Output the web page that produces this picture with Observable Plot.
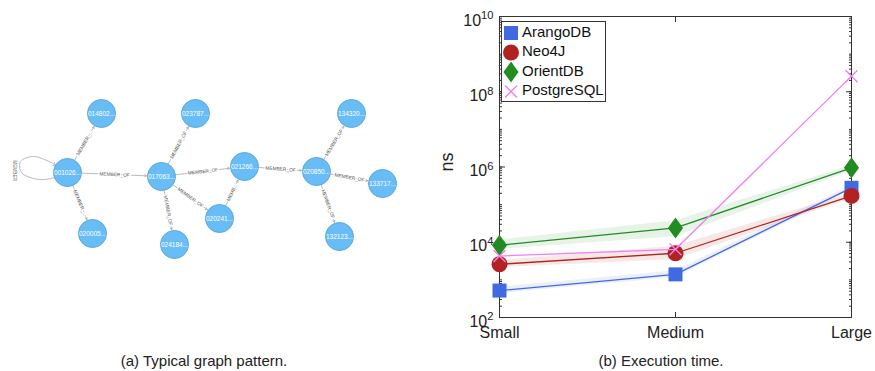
<!DOCTYPE html>
<html><head><meta charset="utf-8">
<script src="https://cdn.jsdelivr.net/npm/d3@7"></script>
<script src="https://cdn.jsdelivr.net/npm/@observablehq/plot@0.6"></script>
<style>
body{margin:0;background:#fff;font-family:"Liberation Sans",Arial,sans-serif;}
#wrap{position:relative;width:875px;height:371px;overflow:hidden;background:#fff}
#graph{position:absolute;left:0;top:0}
#chart{position:absolute;left:430px;top:0}
#legend{position:absolute;left:501px;top:21px}
.cap{position:absolute;top:352px;font-size:15px;color:#222;transform:translateX(-50%);white-space:nowrap}
</style></head>
<body><div id="wrap">
<div id="graph"></div>
<div id="chart"></div>
<div id="legend"></div>
<div class="cap" style="left:204px">(a) Typical graph pattern.</div>
<div class="cap" style="left:661px">(b) Execution time.</div>
</div>
<script>
// ---------- Panel (a): graph pattern ----------
const nodeIds = ["001026","014802","020005","017063","023787","024184","020241","021266","020850","134320","133717","132123"];
const nodeX =   [67, 101, 92, 161, 195, 174, 219, 244, 316, 351, 382, 339];
const nodeY =   [172, 113, 233, 176, 113, 244, 218, 166, 171, 113, 183, 236];
const edgeFrom = ["001026","001026","001026","017063","017063","017063","017063","020241","021266","020850","020850","020850"];
const edgeTo =   ["014802","020005","017063","023787","021266","024184","020241","021266","020850","134320","133717","132123"];
const edgeLabel = ["MEMBER_...","MEMBER_...","MEMBER_OF","MEMBER_OF","MEMBER_OF","MEMBER_OF","MEMBER_OF","MEMB...","MEMBER_OF","MEMBER_OF","MEMBER_OF","MEMBER_OF"];
const loopX = [55, 38, 21, 20, 34, 54];
const loopY = [177, 179, 172, 161, 156, 164];
const loopLabel = "MEMBER";

// ---------- Panel (b): execution time ----------
const sizes = ["Small","Medium","Large"];
const seriesNames = ["ArangoDB","Neo4J","OrientDB","PostgreSQL"];
const arangoNs   = [520, 1400, 2.8e5];
const neo4jNs    = [2600, 5100, 1.7e5];
const orientNs   = [8300, 2.4e4, 9.5e5];
const postgresNs = [4300, 6500, 2.6e8];
const arangoLo = [430, 1150, 2.4e5],  arangoHi = [640, 1750, 3.2e5];
const neo4jLo  = [2100, 3500, 1.45e5], neo4jHi = [3300, 7800, 2.0e5];
const orientLo = [6500, 1.4e4, 8.0e5], orientHi = [1.15e4, 3.7e4, 1.1e6];
const yMajor = [1e2, 1e4, 1e6, 1e8, 1e10];

const colors = ["#4169E1","#B22222","#228B22","#EE82EE"];

const nodeIndex = new Map(nodeIds.map((id,i)=>[id,i]));
const nodes = nodeIds.map((id,i)=>({id, x:nodeX[i], y:nodeY[i], label:id+"..."}));
const edges = edgeFrom.map((f,i)=>{
  const a = nodes[nodeIndex.get(f)], b = nodes[nodeIndex.get(edgeTo[i])];
  let ang = Math.atan2(b.y-a.y, b.x-a.x)*180/Math.PI;
  if (ang > 90) ang -= 180; if (ang < -90) ang += 180;
  return {x1:a.x, y1:a.y, x2:b.x, y2:b.y, mx:(a.x+b.x)/2, my:(a.y+b.y)/2, ang, label:edgeLabel[i]};
});
const loop = loopX.map((x,i)=>({x, y:loopY[i]}));
const loopLab = [{x: d3.min(loopX)-6, y: d3.mean(loopY)+2, label: loopLabel}];

const graph = Plot.plot({
  width: 430, height: 330, margin: 0,
  x: {domain:[0,430], range:[0,430], axis:null},
  y: {domain:[0,330], range:[0,330], axis:null},
  style: {fontFamily:"Liberation Sans, Arial, sans-serif", background:"#fff"},
  marks: [
    Plot.line(loop, {x:"x", y:"y", curve:"catmull-rom", stroke:"#a8a8a8", strokeWidth:0.8, markerEnd:"arrow"}),
    Plot.text(loopLab, {x:"x", y:"y", text:"label", rotate:90, fontSize:4.8, fill:"#555"}),
    Plot.arrow(edges, {x1:"x1", y1:"y1", x2:"x2", y2:"y2", insetStart:14, insetEnd:15, headLength:4, stroke:"#a8a8a8", strokeWidth:0.8}),
    Plot.text(edges, {x:"mx", y:"my", text:"label", rotate:"ang", fontSize:4.8, fill:"#555", stroke:"#fff", strokeWidth:2.5}),
    Plot.dot(nodes, {x:"x", y:"y", r:14, fill:"#68BDF6", stroke:"#5CA8DB", strokeWidth:1}),
    Plot.text(nodes, {x:"x", y:"y", text:"label", fontSize:6.5, fill:"#fff"})
  ]
});
document.getElementById("graph").appendChild(graph);

// custom marker symbols (size = pi r^2)
const rad = s => Math.sqrt(s/Math.PI);
const symSquare = {draw(c,s){const r=rad(s); c.rect(-r,-r,2*r,2*r);}};
const symCircle = {draw(c,s){const r=rad(s); c.moveTo(r,0); c.arc(0,0,r,0,2*Math.PI);}};
const symDiamond = {draw(c,s){const r=rad(s); c.moveTo(0,-r); c.lineTo(0.72*r,0); c.lineTo(0,r); c.lineTo(-0.72*r,0); c.closePath();}};
const symTimes = {draw(c,s){const r=rad(s); c.moveTo(-r,-r); c.lineTo(r,r); c.moveTo(r,-r); c.lineTo(-r,r);}};
const symbols = [symSquare, symCircle, symDiamond, symTimes];
const symR = [7, 8, 10.5, 6];

const allValues = [arangoNs, neo4jNs, orientNs, postgresNs];
const allLo = [arangoLo, neo4jLo, orientLo, null];
const allHi = [arangoHi, neo4jHi, orientHi, null];

const minor = [];
for (let k = 2; k < 10; k++) for (let m = 1; m < 10; m++) minor.push(m*10**k);
minor.push(1e10);

const marks = [];
seriesNames.forEach((name, s) => {
  if (allLo[s]) {
    const band = sizes.map((size,i)=>({size, lo:allLo[s][i], hi:allHi[s][i]}));
    marks.push(Plot.areaY(band, {x:"size", y1:"lo", y2:"hi", fill:colors[s], fillOpacity:0.1}));
  }
});
marks.push(
  Plot.axisY({anchor:"left", ticks:minor, tickSize:-3, tickFormat:()=>"", stroke:"#333", label:null}),
  Plot.axisY({anchor:"right", ticks:minor, tickSize:-3, tickFormat:()=>"", stroke:"#333", label:null}),
  Plot.axisY({anchor:"left", ticks:yMajor, tickSize:-6, tickFormat:()=>"", stroke:"#333", label:null}),
  Plot.axisY({anchor:"right", ticks:yMajor, tickSize:-6, tickFormat:()=>"", stroke:"#333", label:null}),
  Plot.axisX({anchor:"bottom", ticks:sizes, tickSize:-5, tickFormat:()=>"", stroke:"#333", label:null}),
  Plot.axisX({anchor:"top", ticks:sizes, tickSize:-5, tickFormat:()=>"", stroke:"#333", label:null}),
  Plot.axisY({anchor:"left", ticks:yMajor, tickSize:0, tickPadding:6, dy:4, fontSize:16, fill:"#222",
    tickFormat: d => String(Math.round(Math.log10(d))), label:null}),
  Plot.axisX({anchor:"bottom", ticks:sizes, tickSize:0, tickPadding:9, fontSize:16, fill:"#222", label:null}),
  Plot.frame({stroke:"#333", strokeWidth:1})
);
seriesNames.forEach((name, s) => {
  const pts = sizes.map((size,i)=>({size, v:allValues[s][i]}));
  marks.push(Plot.line(pts, {x:"size", y:"v", stroke:colors[s], strokeWidth:1.3}));
  const isTimes = s === 3;
  marks.push(Plot.dot(pts, {x:"size", y:"v", symbol:symbols[s], r:symR[s],
    fill: isTimes ? "none" : colors[s], stroke: isTimes ? colors[s] : "none", strokeWidth: isTimes ? 1.4 : 0}));
});

const chart = Plot.plot({
  width: 445, height: 345,
  marginLeft: 69, marginRight: 24, marginTop: 16, marginBottom: 28,
  x: {type:"point", domain:sizes, padding:0, axis:null},
  y: {type:"log", domain:[1e2,1e10], axis:null},
  style: {fontFamily:"Liberation Sans, Arial, sans-serif", fontSize:"16px", background:"transparent", overflow:"visible"},
  marks
});
// superscript exponents for y tick labels
d3.select(chart).selectAll('g[aria-label="y-axis tick label"] text').each(function(){
  const e = this.textContent;
  if (!e) return;
  const t = d3.select(this);
  t.text(null);
  t.append("tspan").text("10");
  t.append("tspan").attr("dy","-0.55em").attr("font-size","0.7em").text(e);
});
// y label "ns"
d3.select(chart).append("text")
  .attr("transform","translate(18,162) rotate(-90)")
  .attr("text-anchor","middle").attr("dominant-baseline","middle")
  .attr("font-size",18).attr("fill","#222").text("ns");
document.getElementById("chart").appendChild(chart);

// legend
const lg = d3.select("#legend").append("svg").attr("width",106).attr("height",82).style("overflow","visible");
lg.append("rect").attr("x",0.5).attr("y",0.5).attr("width",104).attr("height",80).attr("fill","#fff").attr("stroke","#333");
seriesNames.forEach((name, s) => {
  const cy = 12 + s*19.5;
  const isTimes = s === 3;
  lg.append("path").attr("transform",`translate(10,${cy})`)
    .attr("d", d3.symbol(symbols[s], Math.PI*symR[s]*symR[s])())
    .attr("fill", isTimes ? "none" : colors[s]).attr("stroke", isTimes ? colors[s] : "none").attr("stroke-width",1.4);
  lg.append("text").attr("x",21).attr("y",cy).attr("dominant-baseline","middle")
    .attr("font-size",15).attr("fill","#111").text(name);
});
</script>
</body></html>
